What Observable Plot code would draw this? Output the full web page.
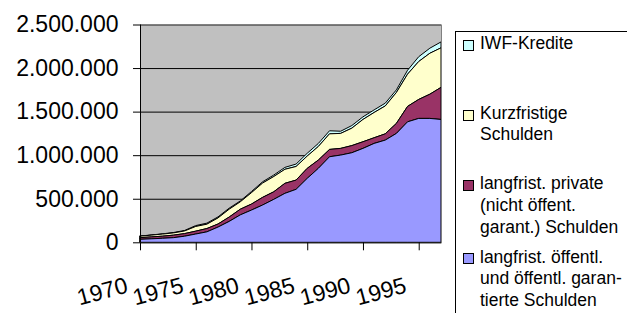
<!DOCTYPE html>
<html><head><meta charset="utf-8">
<script src="https://cdn.jsdelivr.net/npm/d3@7"></script>
<script src="https://cdn.jsdelivr.net/npm/@observablehq/plot@0.6"></script>
<style>
body{margin:0;background:#fff;}
#wrap{position:relative;width:627px;height:313px;overflow:hidden;font-family:Arial,"Liberation Sans",sans-serif;}
#wrap svg{position:absolute;left:0;top:0;}
#legendBox{position:absolute;left:455px;top:31px;width:200px;height:300px;border:1px solid #000;box-sizing:border-box;}
.sw{position:absolute;left:463px;width:11px;height:11px;box-sizing:border-box;border:1px solid #000;}
.lt{position:absolute;left:480px;font-size:17.5px;line-height:21.7px;white-space:nowrap;color:#000;}
</style></head><body><div id="wrap"></div>
<script>
const years = [1970,1971,1972,1973,1974,1975,1976,1977,1978,1979,1980,1981,1982,1983,1984,1985,1986,1987,1988,1989,1990,1991,1992,1993,1994,1995,1996,1997];
const seriesNames = ["IWF-Kredite","Kurzfristige Schulden","langfrist. private (nicht öffent. garant.) Schulden","langfrist. öffentl. und öffentl. garantierte Schulden"];
const legendLabels = ["IWF-Kredite","Kurzfristige<br>Schulden","langfrist. private<br>(nicht öffent.<br>garant.) Schulden","langfrist. öffentl.<br>und öffentl. garan-<br>tierte Schulden"];
const colors = ["#ccffff","#ffffcc","#993366","#9999ff"];
const iwf      = [2000,2000,3000,4000,6000,10000,12000,12000,12000,10000,13000,15000,17000,22000,28000,32000,35000,35000,25000,30000,30000,30000,32000,30000,45000,55000,58000,68000];
const kurz     = [17000,20000,24000,26000,30000,54000,50000,70000,90000,85000,131000,164000,175000,161000,156000,141000,156000,179000,172000,200000,256000,290000,320000,355000,370000,435000,470000,454000];
const privat   = [19000,22000,24000,29000,30000,33000,38000,35000,50000,65000,69000,88000,87000,115000,106000,115000,95000,84000,77000,82000,76000,65000,72000,115000,177000,218000,278000,368000];
const oeffentl = [34000,40000,46000,53000,70000,95000,120000,175000,240000,315000,370000,428000,493000,562000,608000,734000,849000,982000,1001000,1028000,1078000,1135000,1173000,1250000,1383000,1422000,1422000,1410000];
const yTicks = [0,500000,1000000,1500000,2000000,2500000];
const xTicks = [1970,1975,1980,1985,1990,1995];

const seriesValues = [iwf, kurz, privat, oeffentl];
const rows = [];
years.forEach((yr, i) => seriesNames.forEach((s, j) => rows.push({year: yr, series: s, value: seriesValues[j][i]})));
const stackOrder = seriesNames.slice().reverse();
const de = d3.formatLocale({decimal: ",", thousands: ".", grouping: [3], currency: ["", " €"]});
const fmt = de.format(",d");

const chart = Plot.plot({
  width: 627, height: 313,
  marginLeft: 140, marginRight: 186, marginTop: 24.5, marginBottom: 70.7,
  style: {fontFamily: "Arial, 'Liberation Sans', sans-serif", fontSize: "23px", color: "#000", background: "transparent"},
  x: {domain: [1970, 1997], axis: null},
  y: {domain: [0, 2500000], axis: null},
  color: {domain: seriesNames, range: colors},
  marks: [
    Plot.frame({fill: "#c0c0c0"}),
    Plot.ruleY(yTicks.slice(1), {stroke: "#000", strokeWidth: 1}),
    Plot.areaY(rows, Plot.stackY({order: stackOrder}, {x: "year", y: "value", z: "series", fill: "series", stroke: "#000", strokeWidth: 1})),
    Plot.frame({stroke: "#808080"}),
    Plot.ruleX([1970], {stroke: "#000"}),
    Plot.ruleY([0], {stroke: "#000"}),
    Plot.axisY(yTicks, {tickSize: 7, tickPadding: 15, tickFormat: fmt, stroke: "#000", label: null}),
    Plot.axisX(xTicks, {tickSize: 8, tickFormat: () => "", stroke: "#000", label: null}),
    Plot.text(xTicks, {x: d => d, frameAnchor: "bottom", text: d => String(d), textAnchor: "end", lineAnchor: "bottom", rotate: -15, dx: -11.5, dy: 49.4, fontSize: 23, fill: "#000"})
  ]
});
const wrap = document.getElementById("wrap");
wrap.appendChild(chart);
const box = document.createElement("div"); box.id = "legendBox"; wrap.appendChild(box);
const textTops = [32.5, 102.5, 173.2, 246.5];
const swTops = [39.5, 110, 180, 253];
seriesNames.forEach((s, i) => {
  const sw = document.createElement("div"); sw.className = "sw"; sw.style.top = swTops[i] + "px"; sw.style.background = colors[i]; wrap.appendChild(sw);
  const t = document.createElement("div"); t.className = "lt"; t.style.top = textTops[i] + "px"; t.innerHTML = legendLabels[i]; wrap.appendChild(t);
});
</script></body></html>
